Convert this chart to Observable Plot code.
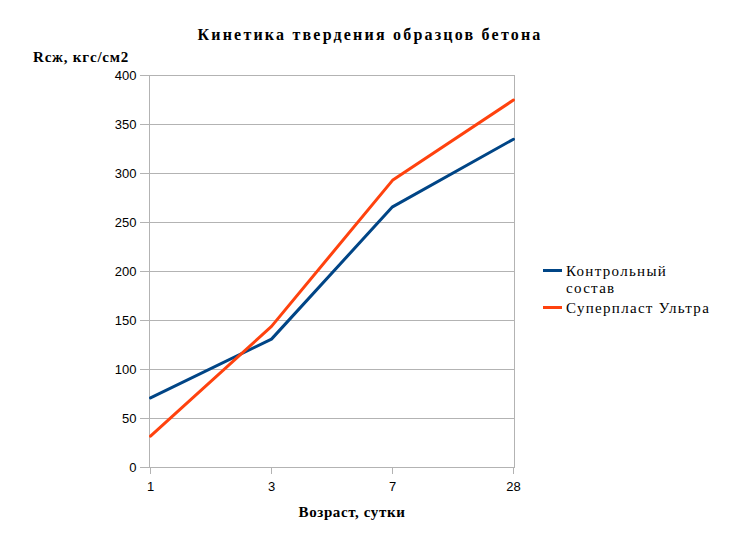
<!DOCTYPE html>
<html>
<head>
<meta charset="utf-8">
<script src="https://cdn.jsdelivr.net/npm/d3@7"></script>
<script src="https://cdn.jsdelivr.net/npm/@observablehq/plot@0.6"></script>
<style>
  body { margin: 0; background: #fff; }
  #wrap { position: relative; width: 738px; height: 536px; }
  .serif { font-family: "Liberation Serif", "DejaVu Serif", serif; color: #000; position: absolute; white-space: nowrap; }
  #title { left: 0; width: 740px; top: 26px; text-align: center; font-weight: bold; font-size: 16px; letter-spacing: 2.2px; }
  #ylab { left: 33px; top: 49px; font-weight: bold; font-size: 15px; letter-spacing: 0.8px; }
  #xlab { left: 149px; width: 406px; top: 504px; text-align: center; font-weight: bold; font-size: 15px; letter-spacing: 0.6px; }
  #legend { left: 543px; top: 263px; font-size: 15px; line-height: 17px; letter-spacing: 1.3px; }
  .item { position: relative; padding-left: 23px; }
  .sw { position: absolute; left: 0; top: 6px; width: 19px; height: 3px; }
</style>
</head>
<body>
<div id="wrap">
  <div id="chart"></div>
  <div id="title" class="serif"></div>
  <div id="ylab" class="serif"></div>
  <div id="xlab" class="serif"></div>
  <div id="legend" class="serif"></div>
</div>
<script>
const title = "Кинетика твердения образцов бетона";
const yTitle = "Rсж, кгс/см2";
const xTitle = "Возраст, сутки";
const days = ["1", "3", "7", "28"];
const yTicks = [0, 50, 100, 150, 200, 250, 300, 350, 400];
const seriesNames = ["Контрольный\nсостав", "Суперпласт Ультра"];
const seriesColors = ["#004586", "#ff420e"];
const control = [71, 131, 266, 335];
const ultra = [32, 144, 293, 375];

const rows = [];
days.forEach((d, i) => rows.push({day: d, value: control[i], series: seriesNames[0]}));
days.forEach((d, i) => rows.push({day: d, value: ultra[i], series: seriesNames[1]}));

const gray = "#b3b3b3";
const chart = Plot.plot({
  width: 738,
  height: 536,
  marginLeft: 149,
  marginRight: 224,
  marginTop: 75,
  marginBottom: 69,
  style: {fontFamily: "Liberation Sans, Arial, sans-serif", fontSize: "13px", color: "#000"},
  x: {type: "point", domain: days, padding: 0},
  y: {domain: [0, 400]},
  color: {domain: seriesNames, range: seriesColors},
  marks: [
    Plot.gridY(yTicks, {stroke: gray, strokeOpacity: 1}),
    Plot.frame({stroke: gray}),
    Plot.axisX({label: null, tickSize: 7, tickPadding: 7, stroke: gray, fill: "#000"}),
    Plot.axisY(yTicks, {label: null, tickSize: 9, tickPadding: 4, stroke: gray, fill: "#000"}),
    Plot.line(rows, {x: "day", y: "value", z: "series", stroke: "series", strokeWidth: 3, strokeLinejoin: "miter"})
  ]
});
document.getElementById("chart").append(chart);

document.getElementById("title").textContent = title;
document.getElementById("ylab").textContent = yTitle;
document.getElementById("xlab").textContent = xTitle;
const leg = document.getElementById("legend");
seriesNames.forEach((n, i) => {
  const it = document.createElement("div");
  it.className = "item";
  it.style.marginBottom = i === 0 ? "3px" : "0";
  const sw = document.createElement("span");
  sw.className = "sw";
  sw.style.background = seriesColors[i];
  it.append(sw);
  n.split("\n").forEach(line => {
    const l = document.createElement("div");
    l.textContent = line;
    it.append(l);
  });
  leg.append(it);
});
</script>
</body>
</html>
